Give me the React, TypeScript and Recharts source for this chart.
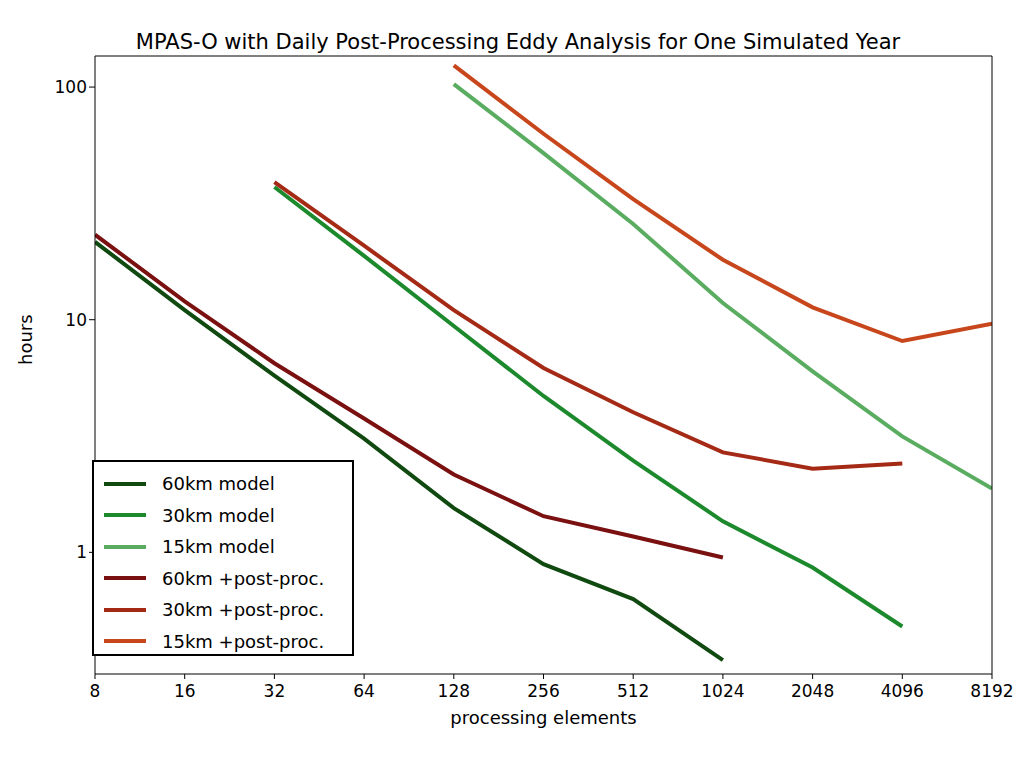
import { LineChart, Line, XAxis, YAxis, CartesianGrid } from 'recharts'

const pes = [8, 16, 32, 64, 128, 256, 512, 1024, 2048, 4096, 8192]
const m60 = [21.6, 11, 5.75, 3.08, 1.55, 0.89, 0.63, 0.344, null, null, null]
const m30 = [null, null, 37.2, 18.8, 9.4, 4.7, 2.48, 1.36, 0.86, 0.48, null]
const m15 = [null, null, null, null, 103, 52, 25.8, 11.8, 6.0, 3.15, 1.88]
const p60 = [23.2, 12.0, 6.5, 3.76, 2.16, 1.43, 1.17, 0.95, null, null, null]
const p30 = [null, null, 39, 20.8, 11, 6.2, 4.0, 2.69, 2.29, 2.41, null]
const p15 = [null, null, null, null, 124, 63, 33, 18.1, 11.3, 8.1, 9.6]
const yTicks = [1, 10, 100]

const series = [
  { key: 'm60', name: '60km model', color: '#104a10', vals: m60 },
  { key: 'm30', name: '30km model', color: '#1c8a2c', vals: m30 },
  { key: 'm15', name: '15km model', color: '#5aad60', vals: m15 },
  { key: 'p60', name: '60km +post-proc.', color: '#7a1010', vals: p60 },
  { key: 'p30', name: '30km +post-proc.', color: '#a52a16', vals: p30 },
  { key: 'p15', name: '15km +post-proc.', color: '#c8461c', vals: p15 },
]

const data = pes.map((pe, i) => {
  const row: any = { pe }
  series.forEach(s => { row[s.key] = s.vals[i] })
  return row
})

const font = 'DejaVu Sans, sans-serif'

export default function App() {
  return (
    <div style={{ position: 'relative', width: 1010, height: 750, fontFamily: font }}>
      <div style={{ position: 'absolute', top: 22, left: 0, width: 1020, textAlign: 'center', fontSize: 21 }}>
        MPAS-O with Daily Post-Processing Eddy Analysis for One Simulated Year
      </div>
      <LineChart width={1010} height={750} data={data} margin={{ top: 47, right: 25, bottom: 54, left: 8 }}>
        <CartesianGrid horizontal={false} vertical={false} stroke="#000" />
        <XAxis dataKey="pe" type="number" scale="log" domain={[8, 8192]} ticks={pes}
          allowDataOverflow stroke="#000" tick={{ fill: '#000', fontSize: 17, fontFamily: font }}
          tickSize={5} tickMargin={6}
          label={{ value: 'processing elements', position: 'insideBottom', offset: -20, fill: '#000', fontSize: 18 }} />
        <XAxis xAxisId="top" orientation="top" dataKey="pe" type="number" scale="log" domain={[8, 8192]} ticks={pes}
          stroke="#000" tick={false} height={1} />
        <YAxis type="number" scale="log" domain={[0.3, 136]} ticks={yTicks} allowDataOverflow width={79}
          stroke="#000" tick={{ fill: '#000', fontSize: 17, fontFamily: font }}
          label={{ value: 'hours', angle: -90, position: 'insideLeft', offset: 10, fill: '#000', fontSize: 18 }} />
        <YAxis yAxisId="right" orientation="right" type="number" scale="log" domain={[0.3, 136]} ticks={yTicks}
          stroke="#000" tick={false} width={1} />
        {series.map(s => (
          <Line key={s.key} dataKey={s.key} name={s.name} stroke={s.color} strokeWidth={4}
            dot={false} isAnimationActive={false} connectNulls={false} />
        ))}
      </LineChart>
      <div style={{ position: 'absolute', left: 84, top: 452, width: 262, height: 196, border: '2px solid #000', background: '#fff', boxSizing: 'border-box', padding: '6px 10px' }}>
        {series.map(s => (
          <div key={s.key} style={{ display: 'flex', alignItems: 'center', height: 31.5, fontSize: 18 }}>
            <div style={{ width: 42, height: 4, background: s.color, marginRight: 16 }} />
            {s.name}
          </div>
        ))}
      </div>
    </div>
  )
}
